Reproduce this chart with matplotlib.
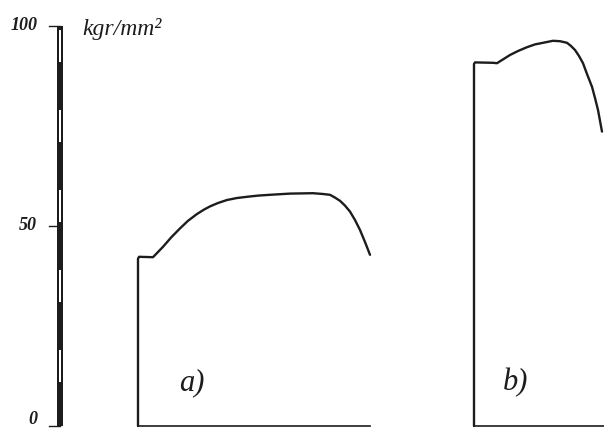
import matplotlib.pyplot as plt
import numpy as np

# --- data (stress in kgr/mm2, elongation in arbitrary units) ---
# specimen a)
a_strain = [0, 0, 0.25, 3.75, 5, 6.25, 8.25, 10.5, 12.5, 14.75, 16.5, 18, 20, 22.25, 24.75,
            27.25, 30, 33, 38, 43.75, 46.25, 48, 49.25, 50.5, 51.75, 53, 54.25, 55.5, 56.75, 58]
a_stress = [0, 41.8, 42.3, 42.2, 43.5, 44.8, 47.1, 49.4, 51.3, 53.0, 54.1, 54.9, 55.75, 56.5, 57.0,
            57.3, 57.6, 57.8, 58.1, 58.2, 58.0, 57.8, 57.1, 56.3, 55.1, 53.6, 51.5, 49.0, 46.0, 42.8]
a_base = 58.0
# specimen b)
b_strain = [0, 0, 0.25, 4.75, 5.75, 9, 11, 13.25, 15.25, 17.25, 19.75, 21.5, 23.25, 24.25,
            25.25, 26.25, 27.25, 28.25, 29.5, 30.25, 31, 32]
b_stress = [0, 90.5, 90.9, 90.8, 90.7, 92.75, 93.75, 94.7, 95.4, 95.8, 96.3, 96.2, 95.8, 95.0,
            94.0, 92.5, 90.7, 88.0, 84.8, 82.0, 79.0, 73.6]
b_base = 33.0

# stress scale bar
scale_edges = [0, 10, 20, 30, 40, 50, 60, 70, 80, 90, 100]
scale_ticks = [0, 50, 100]
scale_labels = ["0", "50", "100"]
unit_label = "kgr/mm²"

# --- layout ---
ink = "#1c1c1c"
a_x0, b_x0, bar_x = 34.5, 118.5, 15.0

fig = plt.figure(figsize=(6.04, 4.29), dpi=100)
ax = fig.add_axes([0, 0, 1, 1])
ax.set_xlim(0, 151)
ax.set_ylim(-0.75, 106.5)
ax.axis("off")

# scale bar: black outline, alternating black / white segments
ax.bar(bar_x, 100, width=1.7, bottom=0, color=ink, linewidth=0)
for i in range(len(scale_edges) - 1):
    lo, hi = scale_edges[i], scale_edges[i + 1]
    if i % 2 == 1:
        ax.bar(bar_x, hi - lo - 1.8, width=0.6, bottom=lo + 0.9, color="white", linewidth=0)
for t, lab in zip(scale_ticks, scale_labels):
    ax.plot([bar_x - 2.8, bar_x], [t, t], color=ink, lw=1.0)
    ax.text(bar_x - 5.7, max(t, 1.6), lab, ha="right", va="center", fontsize=13,
            family="Liberation Serif", style="italic", weight="bold", color=ink)
ax.text(20.5, 99.3, unit_label, ha="left", va="center", fontsize=17,
        family="Liberation Serif", style="italic", color=ink)

# specimen curves
for x0, strain, stress, base, lab in [(a_x0, a_strain, a_stress, a_base, "a)"),
                                      (b_x0, b_strain, b_stress, b_base, "b)")]:
    ax.plot(np.array(strain) + x0, stress, color=ink, lw=1.7,
            solid_joinstyle="round", solid_capstyle="round")
    ax.plot([x0, x0 + base], [0, 0], color=ink, lw=1.2)
    ax.text(x0 + (13.5 if lab == "a)" else 10.5), 10.8, lab, ha="center", va="center",
            fontsize=22, family="Liberation Serif", style="italic", color=ink)

fig.savefig("out.png", dpi=100, facecolor="white")
